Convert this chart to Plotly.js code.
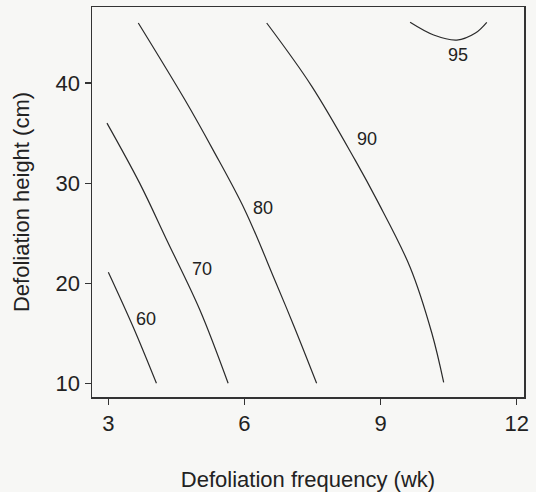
<!DOCTYPE html>
<html><head><meta charset="utf-8">
<script src="https://cdn.plot.ly/plotly-3.0.1.min.js"></script>
<style>html,body{margin:0;padding:0;background:#f7f7f5;}</style>
</head><body>
<div id="chart" style="width:536px;height:492px;"></div>
<script>
// Contour lines (x = defoliation frequency, wk; y = defoliation height, cm)
const c60x = [3.00, 3.55, 4.06];
const c60y = [21.1, 15.6, 10.0];
const c70x = [2.97, 3.69, 4.30, 5.02, 5.64];
const c70y = [36.0, 30.0, 24.2, 17.3, 10.0];
const c80x = [3.66, 4.69, 5.31, 6.01, 6.67, 7.10, 7.59];
const c80y = [46.0, 38.3, 33.3, 27.3, 20.3, 15.6, 10.0];
const c90x = [6.49, 7.48, 8.44, 8.92, 9.65, 10.13, 10.39];
const c90y = [46.0, 39.7, 32.3, 28.3, 21.6, 15.0, 10.1];
const c95x = [9.65, 10.17, 10.68, 11.09, 11.34];
const c95y = [46.07, 44.8, 44.3, 45.0, 46.07];

const labelText = ['60', '70', '80', '90', '95'];
const labelX = [3.84, 5.07, 6.40, 8.71, 10.70];
const labelY = [16.4, 21.4, 27.5, 34.4, 42.8];

const xTicks = [3, 6, 9, 12];
const yTicks = [10, 20, 30, 40];

const line = {color: '#2a2a2a', width: 1.2, shape: 'spline', smoothing: 1};
const series = [[c60x, c60y], [c70x, c70y], [c80x, c80y], [c90x, c90y], [c95x, c95y]];
const traces = series.map(s => ({x: s[0], y: s[1], type: 'scatter', mode: 'lines', line: line, hoverinfo: 'skip'}));

const FONT = 'Liberation Sans, Arial, Helvetica, sans-serif';
const annotations = labelText.map((t, i) => ({
  x: labelX[i], y: labelY[i], xref: 'x', yref: 'y', text: t, showarrow: false,
  font: {family: FONT, size: 18, color: '#222'}
}));

const layout = {
  width: 536, height: 492,
  paper_bgcolor: '#f7f7f5', plot_bgcolor: '#f7f7f5',
  margin: {l: 92, r: 12, t: 7, b: 95},
  showlegend: false,
  font: {family: FONT, color: '#222'},
  xaxis: {
    range: [2.64, 12.16], tickvals: xTicks, ticktext: xTicks.map(String),
    ticks: 'outside', ticklen: 6, tickwidth: 1.2, tickcolor: '#333',
    showline: true, linecolor: '#333', linewidth: 1.5, mirror: true,
    showgrid: false, zeroline: false,
    tickfont: {size: 22, color: '#222'},
    title: {text: 'Defoliation frequency (wk)', font: {size: 22, color: '#222'}, standoff: 37}
  },
  yaxis: {
    range: [8.63, 47.6], tickvals: yTicks, ticktext: yTicks.map(String),
    ticks: 'outside', ticklen: 6, tickwidth: 1.2, tickcolor: '#333',
    showline: true, linecolor: '#333', linewidth: 1.5, mirror: true,
    showgrid: false, zeroline: false,
    tickfont: {size: 22, color: '#222'},
    title: {text: 'Defoliation height (cm)', font: {size: 22, color: '#222'}, standoff: 20}
  },
  annotations: annotations
};

Plotly.newPlot('chart', traces, layout, {staticPlot: true, displayModeBar: false});
</script>
</body></html>
